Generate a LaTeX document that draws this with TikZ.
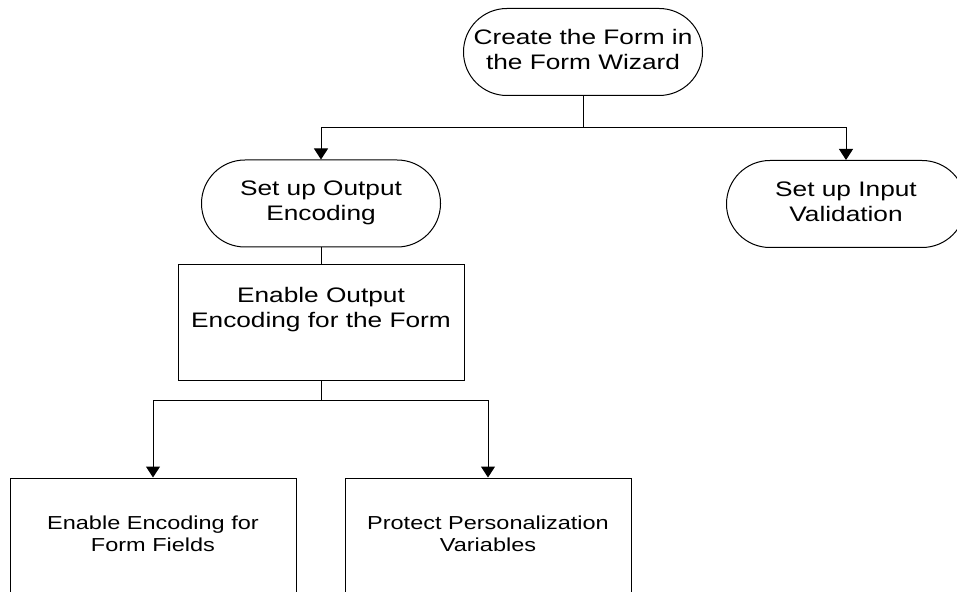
\documentclass[tikz,border=0pt]{standalone}
\usepackage{fontspec}
\setmainfont{Liberation Sans}
\usepackage{graphicx}
\usepackage{tikz}
\usetikzlibrary{arrows.meta}

% wide text block, centred lines
\newcommand{\widetext}[1]{\scalebox{1.25}[1]{\begin{tabular}{@{}c@{}}#1\end{tabular}}}

\tikzset{
  terminal/.style={draw, rounded corners=21.7pt, minimum width=119.5pt, minimum height=43.5pt,
    inner sep=0pt, font=\fontsize{10.5pt}{12.5pt}\selectfont},
  process/.style={draw, minimum width=143pt, minimum height=58pt,
    inner sep=0pt, font=\fontsize{10.5pt}{12.5pt}\selectfont},
  task/.style={process, font=\fontsize{9.4pt}{10.8pt}\selectfont},
  flow/.style={-{Triangle[width=7pt,length=5.5pt]}},
}

\begin{document}
\begin{tikzpicture}[x=0.5pt, y=-0.5pt, line width=0.5pt]
  \clip (0,0) rectangle (957,592);

  % start and the two branches
  \node[terminal] (create) at (583,52) {\widetext{Create the Form in\\the Form Wizard}};
  \node[terminal] (output) at (321,203.5) {\widetext{Set up Output\\Encoding}};
  \node[terminal] (input) at (846,204) {\widetext{Set up Input\\Validation}};

  % output encoding steps
  \node[process] (enable) at (321,323) {\widetext{Enable Output\\Encoding for the Form\\ \strut}};
  \node[task] (fields) at (153,536) {\widetext{Enable Encoding for\\Form Fields}};
  \node[task] (protect) at (488,536) {\widetext{Protect Personalization\\Variables}};

  \coordinate (fork1) at (583,128);
  \coordinate (fork2) at (321,401);

  \draw (create) -- (fork1);
  \draw[flow] (fork1) -| (output);
  \draw[flow] (fork1) -| (input);
  \draw (output) -- (enable);
  \draw (enable) -- (fork2);
  \draw[flow] (fork2) -| (fields);
  \draw[flow] (fork2) -| (protect);
\end{tikzpicture}
\end{document}
